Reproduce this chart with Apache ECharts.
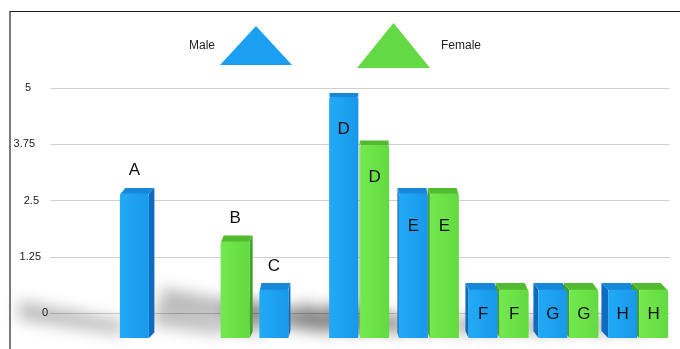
<!DOCTYPE html>
<html>
<head>
<meta charset="utf-8">
<script src="https://cdn.jsdelivr.net/npm/echarts@6/dist/echarts.min.js"></script>
<style>
  html, body { margin: 0; padding: 0; background: #fff; }
  #wrap { position: relative; width: 680px; height: 349px; overflow: hidden; }
  #chart { position: absolute; left: 0; top: 0; width: 680px; height: 349px; }
  #frame { position: absolute; left: 9px; top: 11px; right: -2px; bottom: -2px;
           border-top: 1px solid #1a1a1a; border-left: 2px solid #7a7a7a; pointer-events: none; }
</style>
</head>
<body>
<div id="wrap">
  <div id="chart"></div>
  <div id="frame"></div>
</div>
<script>
// Groups on the x axis and the value of each group per gender (null = no bar)
const categories = ['A', 'B', 'C', 'D', 'E', 'F', 'G', 'H'];
const maleValues = [3, null, 1, 5, 3, 1, 1, 1];
const femaleValues = [null, 2, null, 4, 3, 1, 1, 1];
// Value axis ticks
const yTicks = [0, 1.25, 2.5, 3.75, 5];

const FONT = "'Liberation Sans', Arial, Helvetica, sans-serif";
const BAR_W = 29;
const BAR_GAP = 2;
const VANISH_X = 355;   // x where neither side face of a bar is visible

const palette = {
  Male:   { front: ['#22aaf6', '#1898ea'], top: '#1787da', side: '#0c6cbf', legend: '#1c9ff0' },
  Female: { front: ['#74e94f', '#62da40'], top: '#52bb31', side: '#40a027', legend: '#63d945' }
};

const yMin = yTicks[0];
const yMax = yTicks[yTicks.length - 1];
const yStep = yTicks[1] - yTicks[0];

// Letter label placement: above a lone bar, inside when both bars are present
function barData(values, other) {
  return values.map(function (v, i) {
    if (v == null) return null;
    const alone = other[i] == null;
    let label;
    if (alone) label = { position: 'top', distance: 15 };
    else if (v <= 1) label = { position: 'inside' };
    else label = { position: 'insideTop', distance: 24 };
    return { value: v, label: label };
  });
}

// Geometry of one bar in pixels, from the axis scales
function barBox(api, slot) {
  const i = api.value(0);
  const v = api.value(1);
  const top = api.coord([i, v]);
  const base = api.coord([i, 0]);
  const full = api.coord([i, yMax]);
  const cx = top[0] + slot * (BAR_W + BAR_GAP) / 2;
  return {
    x0: cx - BAR_W / 2, x1: cx + BAR_W / 2, cx: cx,
    yt: top[1], yb: base[1], yFull: full[1]
  };
}

// Top and side faces that give the bars their depth
function facesRenderer(gender, slot) {
  const c = palette[gender];
  return function (params, api) {
    const v = api.value(1);
    if (v == null || isNaN(v)) return null;
    const b = barBox(api, slot);
    const dx = (VANISH_X - b.cx) * 0.025;
    const dy = 4 + (b.yt - b.yFull) * 0.015;
    const sideX = dx >= 0 ? b.x1 : b.x0;
    return {
      type: 'group',
      children: [
        {
          type: 'polygon',
          shape: { points: [[sideX, b.yt], [sideX + dx, b.yt - dy], [sideX + dx, b.yb - dy], [sideX, b.yb]] },
          style: { fill: c.side }
        },
        {
          type: 'polygon',
          shape: { points: [[b.x0 + 0.5, b.yt + 0.5], [b.x1 - 0.5, b.yt + 0.5], [b.x1 + dx, b.yt - dy], [b.x0 + dx, b.yt - dy]] },
          style: { fill: c.top }
        }
      ]
    };
  };
}

// Soft floor shadow cast towards the back left of each bar
function shadowRenderer(slot) {
  const OFF = 3000;
  return function (params, api) {
    const v = api.value(1);
    if (v == null || isNaN(v)) return null;
    const b = barBox(api, slot);
    const L = (b.yb - b.yt) * 0.7;
    const pts = [
      [b.x0 + 4, b.yb - 4],
      [b.x0 + 4, b.yb - 16],
      [b.x0 - L, b.yb - 16 - L * 0.2],
      [b.x0 - L, b.yb - 4 - L * 0.15]
    ].map(function (p) { return [p[0] - OFF, p[1]]; });
    return {
      type: 'polygon',
      shape: { points: pts },
      style: {
        fill: '#000',
        shadowBlur: 16,
        shadowColor: 'rgba(0,0,0,0.3)',
        shadowOffsetX: OFF,
        shadowOffsetY: 0
      }
    };
  };
}

function pairs(values) {
  return values.map(function (v, i) { return [i, v == null ? null : v]; });
}

function frontGradient(gender) {
  const f = palette[gender].front;
  return new echarts.graphic.LinearGradient(0, 0, 1, 0, [
    { offset: 0, color: f[0] }, { offset: 1, color: f[1] }
  ]);
}

const labelPad = [0, 7, 9, 13, 17];
const rich = {};
labelPad.forEach(function (p, k) {
  rich['t' + k] = { padding: [0, p, 0, 0], fontSize: 11, fontFamily: FONT, color: '#222' };
});

const chart = echarts.init(document.getElementById('chart'), null, { renderer: 'canvas' });

chart.setOption({
  animation: false,
  backgroundColor: 'transparent',
  textStyle: { fontFamily: FONT },
  legend: [
    {
      data: [{ name: 'Male', itemStyle: { color: palette.Male.legend } }],
      left: 189, top: 26, padding: 0,
      align: 'right', icon: 'triangle',
      itemWidth: 72, itemHeight: 39,
      textStyle: { fontSize: 12, color: '#222', fontFamily: FONT }
    },
    {
      data: [{ name: 'Female', itemStyle: { color: palette.Female.legend } }],
      left: 357, top: 23, padding: 0,
      align: 'left', icon: 'triangle',
      itemWidth: 73, itemHeight: 45,
      textStyle: { fontSize: 12, color: '#222', fontFamily: FONT, padding: [0, 0, 0, 6] }
    }
  ],
  grid: [
    { left: 50, right: 10, top: 88, bottom: 36 },
    { left: 115, right: 7, top: 97, bottom: 11 }
  ],
  xAxis: [
    { gridIndex: 0, type: 'value', show: false, min: 0, max: 1 },
    { gridIndex: 1, type: 'category', data: categories, show: false }
  ],
  yAxis: [
    {
      gridIndex: 0, type: 'value', min: yMin, max: yMax, interval: yStep,
      axisLine: { show: false }, axisTick: { show: false },
      splitLine: { lineStyle: { color: '#cfcfcf', width: 1 } },
      axisLabel: {
        margin: 2,
        formatter: function (val) {
          const k = yTicks.indexOf(val);
          return '{t' + k + '|' + val + '}';
        },
        rich: rich
      }
    },
    { gridIndex: 1, type: 'value', min: yMin, max: yMax, show: false, splitLine: { show: false } }
  ],
  series: [
    {
      name: 'maleShadow', type: 'custom', xAxisIndex: 1, yAxisIndex: 1, z: 1, clip: false,
      silent: true, renderItem: shadowRenderer(-1), data: pairs(maleValues)
    },
    {
      name: 'femaleShadow', type: 'custom', xAxisIndex: 1, yAxisIndex: 1, z: 1, clip: false,
      silent: true, renderItem: shadowRenderer(1), data: pairs(femaleValues)
    },
    {
      name: 'maleDepth', type: 'custom', xAxisIndex: 1, yAxisIndex: 1, z: 2, clip: false,
      silent: true, renderItem: facesRenderer('Male', -1), data: pairs(maleValues)
    },
    {
      name: 'femaleDepth', type: 'custom', xAxisIndex: 1, yAxisIndex: 1, z: 2, clip: false,
      silent: true, renderItem: facesRenderer('Female', 1), data: pairs(femaleValues)
    },
    {
      name: 'Male', type: 'bar', xAxisIndex: 1, yAxisIndex: 1, z: 3,
      barWidth: BAR_W, barGap: (BAR_GAP / BAR_W * 100).toFixed(1) + '%',
      itemStyle: { color: frontGradient('Male'), borderRadius: [2, 2, 0, 0] },
      label: {
        show: true, formatter: '{b}', fontSize: 17, color: '#111', fontFamily: FONT
      },
      data: barData(maleValues, femaleValues)
    },
    {
      name: 'Female', type: 'bar', xAxisIndex: 1, yAxisIndex: 1, z: 3,
      barWidth: BAR_W,
      itemStyle: { color: frontGradient('Female'), borderRadius: [2, 2, 0, 0] },
      label: {
        show: true, formatter: '{b}', fontSize: 17, color: '#111', fontFamily: FONT
      },
      data: barData(femaleValues, maleValues)
    }
  ]
});
</script>
</body>
</html>
